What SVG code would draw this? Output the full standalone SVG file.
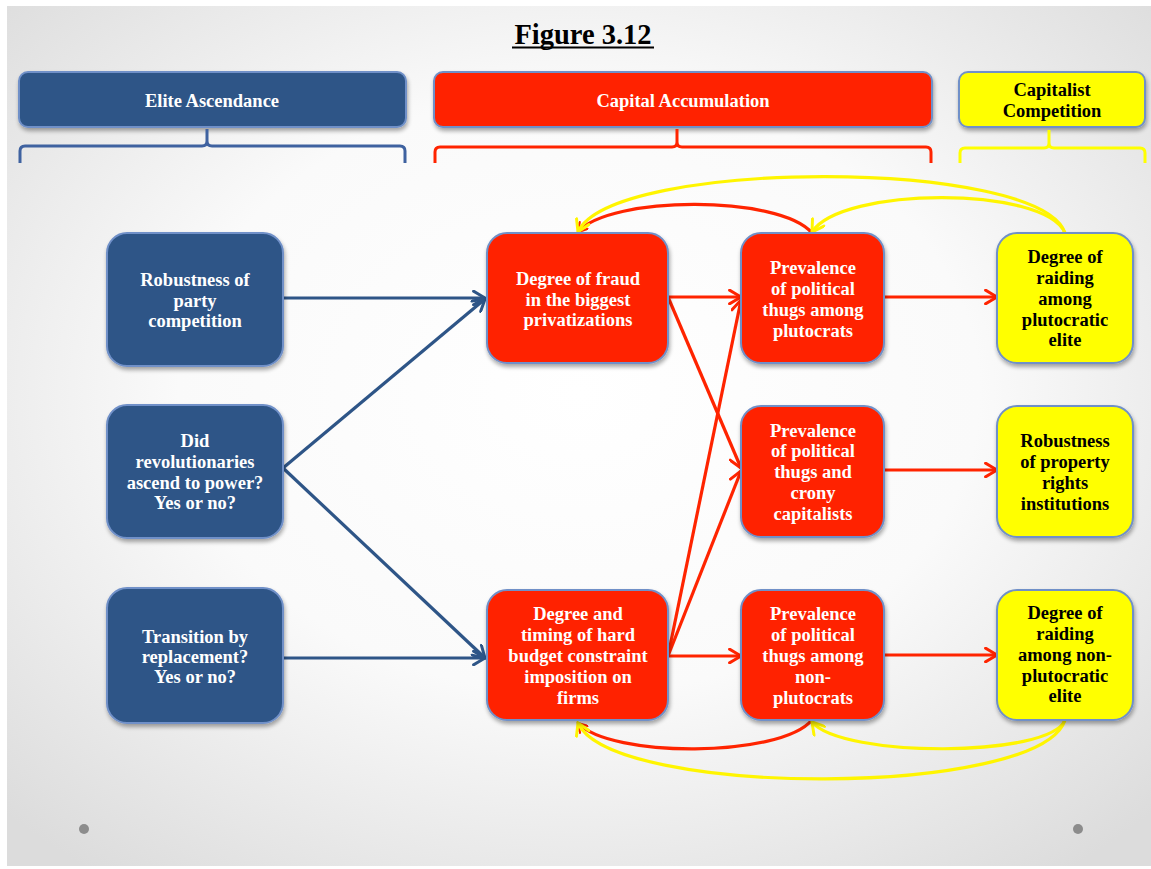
<svg xmlns="http://www.w3.org/2000/svg" width="1151" height="869" viewBox="0 0 1151 869">
<defs>
<radialGradient id="bg" cx="50%" cy="45%" r="70%">
<stop offset="0" stop-color="#FFFFFF"/>
<stop offset="0.5" stop-color="#FAFAFA"/>
<stop offset="1" stop-color="#DCDCDC"/>
</radialGradient>
<filter id="sh" x="-10%" y="-10%" width="125%" height="125%">
<feGaussianBlur in="SourceAlpha" stdDeviation="2"/>
<feOffset dx="1" dy="3" result="b"/>
<feComponentTransfer><feFuncA type="linear" slope="0.35"/></feComponentTransfer>
<feMerge><feMergeNode/><feMergeNode in="SourceGraphic"/></feMerge>
</filter>
<marker id="aB" viewBox="0 0 14 14" refX="12" refY="7" markerWidth="16" markerHeight="16" markerUnits="userSpaceOnUse" orient="auto">
<path d="M2,1 L12,7 L2,13" fill="none" stroke="#2E5587" stroke-width="2.6" stroke-linecap="round"/>
</marker>
<marker id="aR" viewBox="0 0 14 14" refX="12" refY="7" markerWidth="16" markerHeight="16" markerUnits="userSpaceOnUse" orient="auto">
<path d="M2,1 L12,7 L2,13" fill="none" stroke="#FF2400" stroke-width="2.6" stroke-linecap="round"/>
</marker>
<marker id="aY" viewBox="0 0 14 14" refX="12" refY="7" markerWidth="16" markerHeight="16" markerUnits="userSpaceOnUse" orient="auto">
<path d="M2,1 L12,7 L2,13" fill="none" stroke="#FFF500" stroke-width="2.6" stroke-linecap="round"/>
</marker>
<marker id="aRs" viewBox="0 0 14 14" refX="12" refY="7" markerWidth="12" markerHeight="12" markerUnits="userSpaceOnUse" orient="auto">
<path d="M2,1 L12,7 L2,13" fill="none" stroke="#FF2400" stroke-width="2.6" stroke-linecap="round"/>
</marker>
</defs>
<style>
text{font-family:"Liberation Serif","Times New Roman",serif;font-weight:bold;text-anchor:middle;font-size:18.5px}
.w{fill:#FFFFFF}
.k{fill:#000000}
.blue{fill:#2E5587;stroke:#7090C8;stroke-width:2}
.red{fill:#FF2400;stroke:#7090C8;stroke-width:2}
.yel{fill:#FFFF00;stroke:#7090C8;stroke-width:2}
.lb{fill:none;stroke:#2E5587;stroke-width:3.2}
.lr{fill:none;stroke:#FF2400;stroke-width:3.2}
.ly{fill:none;stroke:#FFF500;stroke-width:3.2}
.brB{fill:none;stroke:#3F62A0;stroke-width:3}
.brR{fill:none;stroke:#FF2400;stroke-width:3}
.brY{fill:none;stroke:#FFFF00;stroke-width:3}
</style>
<rect x="0" y="0" width="1151" height="869" fill="#FFFFFF"/>
<rect x="7" y="6" width="1144" height="860" fill="url(#bg)"/>
<circle cx="84" cy="829" r="5" fill="#8C8C8C"/>
<circle cx="1078" cy="829" r="5" fill="#8C8C8C"/>

<g id="title">
<text x="583" y="44" class="k" style="font-size:28.5px">Figure 3.12</text>
<line x1="512" y1="47.5" x2="654" y2="47.5" stroke="#000" stroke-width="2"/>
</g>

<g id="hdr-elite">
<rect x="19" y="72" width="387" height="55" rx="9" class="blue" filter="url(#sh)"/>
<text x="212" y="107" class="w">Elite Ascendance</text>
<path class="brB" d="M20,163 V151 Q20,146 25,146 H202 Q207,146 207,141 V129 M207,141 Q207,146 212,146 H400 Q405,146 405,151 V163"/>
</g>
<g id="hdr-capital">
<rect x="434" y="72" width="498" height="55" rx="9" class="red" filter="url(#sh)"/>
<text x="683" y="107" class="w">Capital Accumulation</text>
<path class="brR" d="M435,163 V152 Q435,147 440,147 H672 Q677,147 677,142 V129 M677,142 Q677,147 682,147 H926 Q931,147 931,152 V163"/>
</g>
<g id="hdr-competition">
<rect x="959" y="72" width="186" height="55" rx="9" class="yel" filter="url(#sh)"/>
<text x="1052" y="96" class="k">Capitalist</text>
<text x="1052" y="117" class="k">Competition</text>
<path class="brY" d="M960,163 V153 Q960,148 965,148 H1044 Q1049,148 1049,143 V130 M1049,143 Q1049,148 1054,148 H1140 Q1145,148 1145,153 V163"/>
</g>

<g id="connectors">
<path class="lb" d="M283,298 L485,298" marker-end="url(#aB)"/>
<path class="lb" d="M283,468 L485,299" marker-end="url(#aB)"/>
<path class="lb" d="M283,468 L485,658" marker-end="url(#aB)"/>
<path class="lb" d="M283,658 L485,658" marker-end="url(#aB)"/>
<path class="lr" d="M668,297 L741,297" marker-end="url(#aR)"/>
<path class="lr" d="M668,297 L741,468" marker-end="url(#aR)"/>
<path class="lr" d="M668,656 L741,300" marker-end="url(#aR)"/>
<path class="lr" d="M668,656 L741,471" marker-end="url(#aR)"/>
<path class="lr" d="M668,656 L741,656" marker-end="url(#aR)"/>
<path class="lr" d="M884,297 L997,297" marker-end="url(#aR)"/>
<path class="lr" d="M884,470 L997,470" marker-end="url(#aR)"/>
<path class="lr" d="M884,655 L997,655" marker-end="url(#aR)"/>
<path class="lr" d="M812,233 C780,195 610,195 578,232" marker-end="url(#aRs)"/>
<path class="ly" d="M1065,233 C1045,186 842,186 812,232" marker-end="url(#aY)"/>
<path class="ly" d="M1065,233 C1040,158 612,158 578,232" marker-end="url(#aY)"/>
<path class="lr" d="M812,720 C780,758 610,758 578,723" marker-end="url(#aRs)"/>
<path class="ly" d="M1065,720 C1050,758 842,758 812,722" marker-end="url(#aY)"/>
<path class="ly" d="M1065,720 C1040,798 612,798 578,723" marker-end="url(#aY)"/>
</g>

<g id="n-robustness-party">
<rect x="107" y="233" width="176" height="133" rx="20" class="blue" filter="url(#sh)"/>
<text x="195" y="286" class="w">Robustness of</text>
<text x="195" y="307" class="w">party</text>
<text x="195" y="327" class="w">competition</text>
</g>
<g id="n-revolutionaries">
<rect x="107" y="405" width="176" height="133" rx="20" class="blue" filter="url(#sh)"/>
<text x="195" y="447" class="w">Did</text>
<text x="195" y="468" class="w">revolutionaries</text>
<text x="195" y="489" class="w">ascend to power?</text>
<text x="195" y="509" class="w">Yes or no?</text>
</g>
<g id="n-transition">
<rect x="107" y="588" width="176" height="135" rx="20" class="blue" filter="url(#sh)"/>
<text x="195" y="643" class="w">Transition by</text>
<text x="195" y="663" class="w">replacement?</text>
<text x="195" y="683" class="w">Yes or no?</text>
</g>

<g id="n-fraud">
<rect x="487" y="233" width="181" height="130" rx="20" class="red" filter="url(#sh)"/>
<text x="578" y="285" class="w">Degree of fraud</text>
<text x="578" y="306" class="w">in the biggest</text>
<text x="578" y="326" class="w">privatizations</text>
</g>
<g id="n-hbc">
<rect x="487" y="590" width="181" height="130" rx="20" class="red" filter="url(#sh)"/>
<text x="578" y="620" class="w">Degree and</text>
<text x="578" y="641" class="w">timing of hard</text>
<text x="578" y="662" class="w">budget constraint</text>
<text x="578" y="683" class="w">imposition on</text>
<text x="578" y="704" class="w">firms</text>
</g>
<g id="n-thugs-plutocrats">
<rect x="741" y="233" width="143" height="130" rx="20" class="red" filter="url(#sh)"/>
<text x="813" y="274" class="w">Prevalence</text>
<text x="813" y="295" class="w">of political</text>
<text x="813" y="316" class="w">thugs among</text>
<text x="813" y="337" class="w">plutocrats</text>
</g>
<g id="n-thugs-crony">
<rect x="741" y="406" width="143" height="131" rx="20" class="red" filter="url(#sh)"/>
<text x="813" y="437" class="w">Prevalence</text>
<text x="813" y="457" class="w">of political</text>
<text x="813" y="478" class="w">thugs and</text>
<text x="813" y="499" class="w">crony</text>
<text x="813" y="520" class="w">capitalists</text>
</g>
<g id="n-thugs-nonplutocrats">
<rect x="741" y="590" width="143" height="130" rx="20" class="red" filter="url(#sh)"/>
<text x="813" y="620" class="w">Prevalence</text>
<text x="813" y="641" class="w">of political</text>
<text x="813" y="662" class="w">thugs among</text>
<text x="813" y="683" class="w">non-</text>
<text x="813" y="704" class="w">plutocrats</text>
</g>

<g id="n-raiding-plutocratic">
<rect x="997" y="233" width="136" height="130" rx="20" class="yel" filter="url(#sh)"/>
<text x="1065" y="263" class="k">Degree of</text>
<text x="1065" y="284" class="k">raiding</text>
<text x="1065" y="305" class="k">among</text>
<text x="1065" y="326" class="k">plutocratic</text>
<text x="1065" y="346" class="k">elite</text>
</g>
<g id="n-property-rights">
<rect x="997" y="406" width="136" height="131" rx="20" class="yel" filter="url(#sh)"/>
<text x="1065" y="447" class="k">Robustness</text>
<text x="1065" y="468" class="k">of property</text>
<text x="1065" y="489" class="k">rights</text>
<text x="1065" y="510" class="k">institutions</text>
</g>
<g id="n-raiding-nonplutocratic">
<rect x="997" y="590" width="136" height="130" rx="20" class="yel" filter="url(#sh)"/>
<text x="1065" y="619" class="k">Degree of</text>
<text x="1065" y="640" class="k">raiding</text>
<text x="1065" y="661" class="k">among non-</text>
<text x="1065" y="682" class="k">plutocratic</text>
<text x="1065" y="702" class="k">elite</text>
</g>
</svg>
